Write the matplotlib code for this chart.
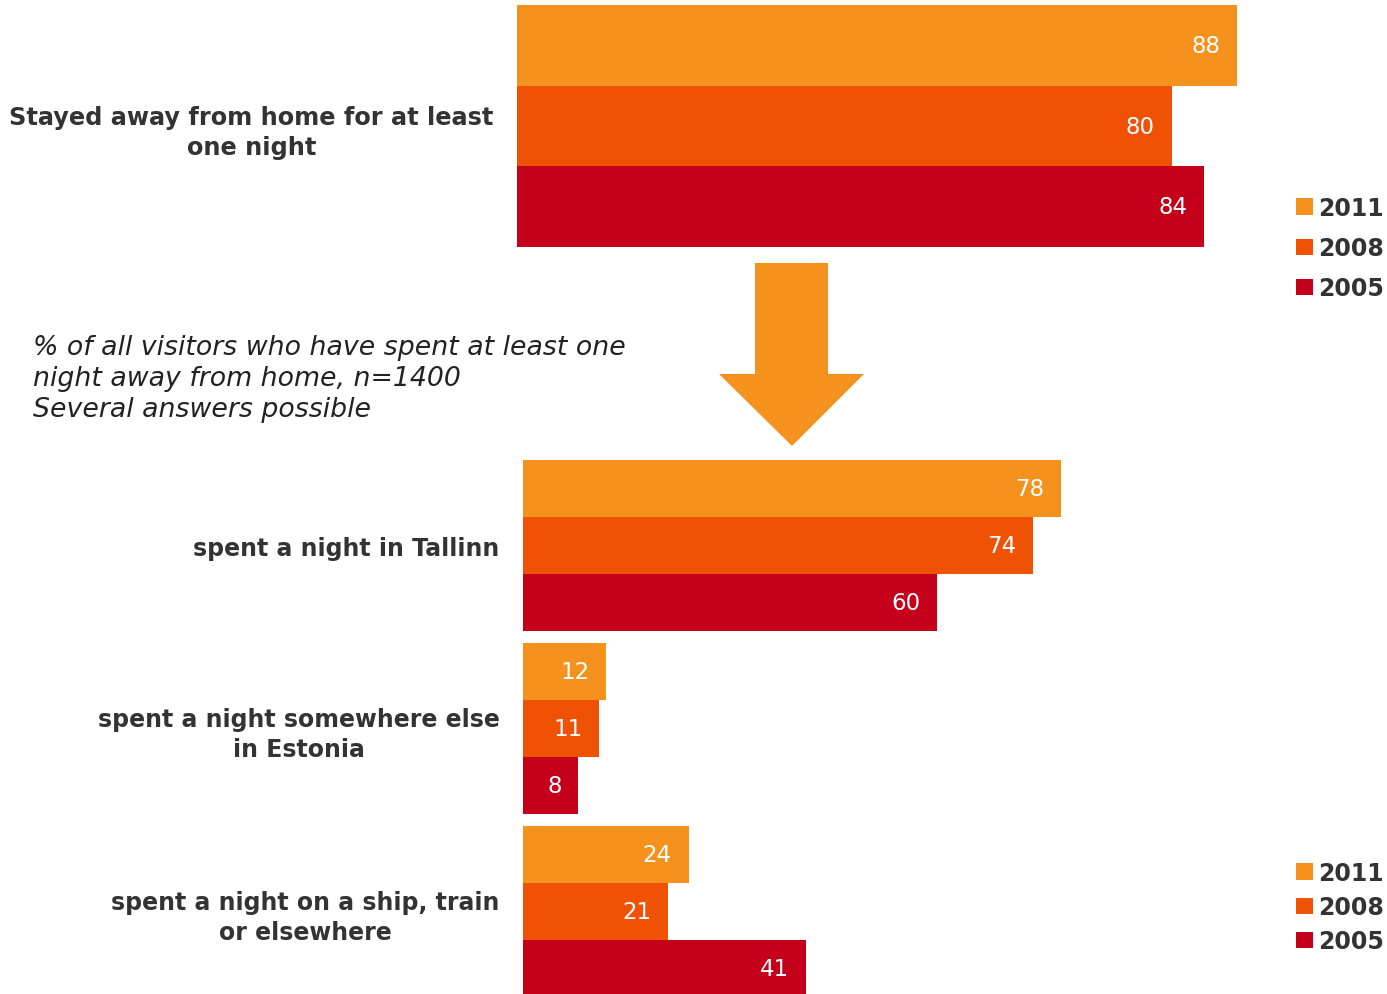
import matplotlib
matplotlib.use("Agg")
import matplotlib.pyplot as plt
from matplotlib.patches import Patch, Polygon

# ── data ──────────────────────────────────────────────────────────────
years = ["2011", "2008", "2005"]
colors = ["#F5921E", "#EF5205", "#C4001A"]

top_category = "Stayed away from home for at least\none night"
top_values = [88, 80, 84]  # 2011, 2008, 2005

categories = [
    "spent a night in Tallinn",
    "spent a night somewhere else\nin Estonia",
    "spent a night on a ship, train\nor elsewhere",
]
values_2011 = [78, 12, 24]
values_2008 = [74, 11, 21]
values_2005 = [60, 8, 41]

note = ("% of all visitors who have spent at least one\n"
        "night away from home, n=1400\n"
        "Several answers possible")

TEXT = "#333333"
W, H = 1387, 995

fig = plt.figure(figsize=(W / 100, H / 100), dpi=100)


def px_axes(left, top, width, height):
    return fig.add_axes([left / W, 1 - (top + height) / H, width / W, height / H])


def clean(ax):
    for s in ax.spines.values():
        s.set_visible(False)
    ax.set_xticks([])
    ax.tick_params(axis="y", length=0, pad=17)


def value_labels(ax, ys, vals):
    for y, v in zip(ys, vals):
        ax.annotate(str(v), (v, y), xytext=(-12, 0), textcoords="offset points",
                    ha="right", va="center", color="white", fontsize=16.5)


# ── top block ─────────────────────────────────────────────────────────
ax1 = px_axes(517, 6, 720 / 88 * 100, 242)
ys_top = list(range(len(top_values)))
ax1.barh(ys_top, top_values, height=1.0, color=colors)
ax1.set_xlim(0, 100)
ax1.set_ylim(2.5, -0.5)
clean(ax1)
ax1.set_yticks([1])
ax1.set_yticklabels([top_category], fontsize=17.3, fontweight="bold", color=TEXT)
for lab in ax1.get_yticklabels():
    lab.set_multialignment("center")
    lab.set_linespacing(1.32)
value_labels(ax1, ys_top, top_values)

# ── bottom block ──────────────────────────────────────────────────────
h = 57 / 183
ax2 = px_axes(523, 461, 538 / 78 * 100, 534)
groups = list(range(len(categories)))
for i, (vals, c) in enumerate(zip([values_2011, values_2008, values_2005], colors)):
    ys = [g + (i - 1) * h for g in groups]
    ax2.barh(ys, vals, height=h, color=c)
    value_labels(ax2, ys, vals)
ax2.set_xlim(0, 100)
ax2.set_ylim(-1.5 * h + 534 / 183, -1.5 * h)
clean(ax2)
ax2.set_yticks(groups)
ax2.set_yticklabels(categories, fontsize=17, fontweight="bold", color=TEXT)
for lab in ax2.get_yticklabels():
    lab.set_multialignment("center")
    lab.set_linespacing(1.32)

# ── arrow between the blocks ──────────────────────────────────────────
arrow_px = [(755, 264), (828, 264), (828, 375), (864, 375),
            (792, 447), (719, 375), (755, 375)]
fig.patches.append(Polygon([(x / W, 1 - y / H) for x, y in arrow_px],
                           closed=True, transform=fig.transFigure,
                           facecolor=colors[0], edgecolor="none"))

# ── note ──────────────────────────────────────────────────────────────
fig.text(33 / W, 1 - 335 / H, note, ha="left", va="top", fontsize=19.3,
         style="italic", color="#222222", linespacing=1.26)

# ── legends ───────────────────────────────────────────────────────────
handles = [Patch(facecolor=c) for c in colors]
leg_kw = dict(loc="upper left", frameon=False, handlelength=0.7,
              handleheight=0.7, handletextpad=0.25, borderaxespad=0,
              borderpad=0, prop={"size": 17, "weight": "bold"})
leg1 = fig.legend(handles, years, bbox_to_anchor=(1296 / W, 1 - 197 / H),
                  labelspacing=0.68, **leg_kw)
leg2 = fig.legend(handles, years, bbox_to_anchor=(1296 / W, 1 - 862 / H),
                  labelspacing=0.43, **leg_kw)
for leg in (leg1, leg2):
    for t in leg.get_texts():
        t.set_color(TEXT)

fig.savefig("out.png", dpi=100)
